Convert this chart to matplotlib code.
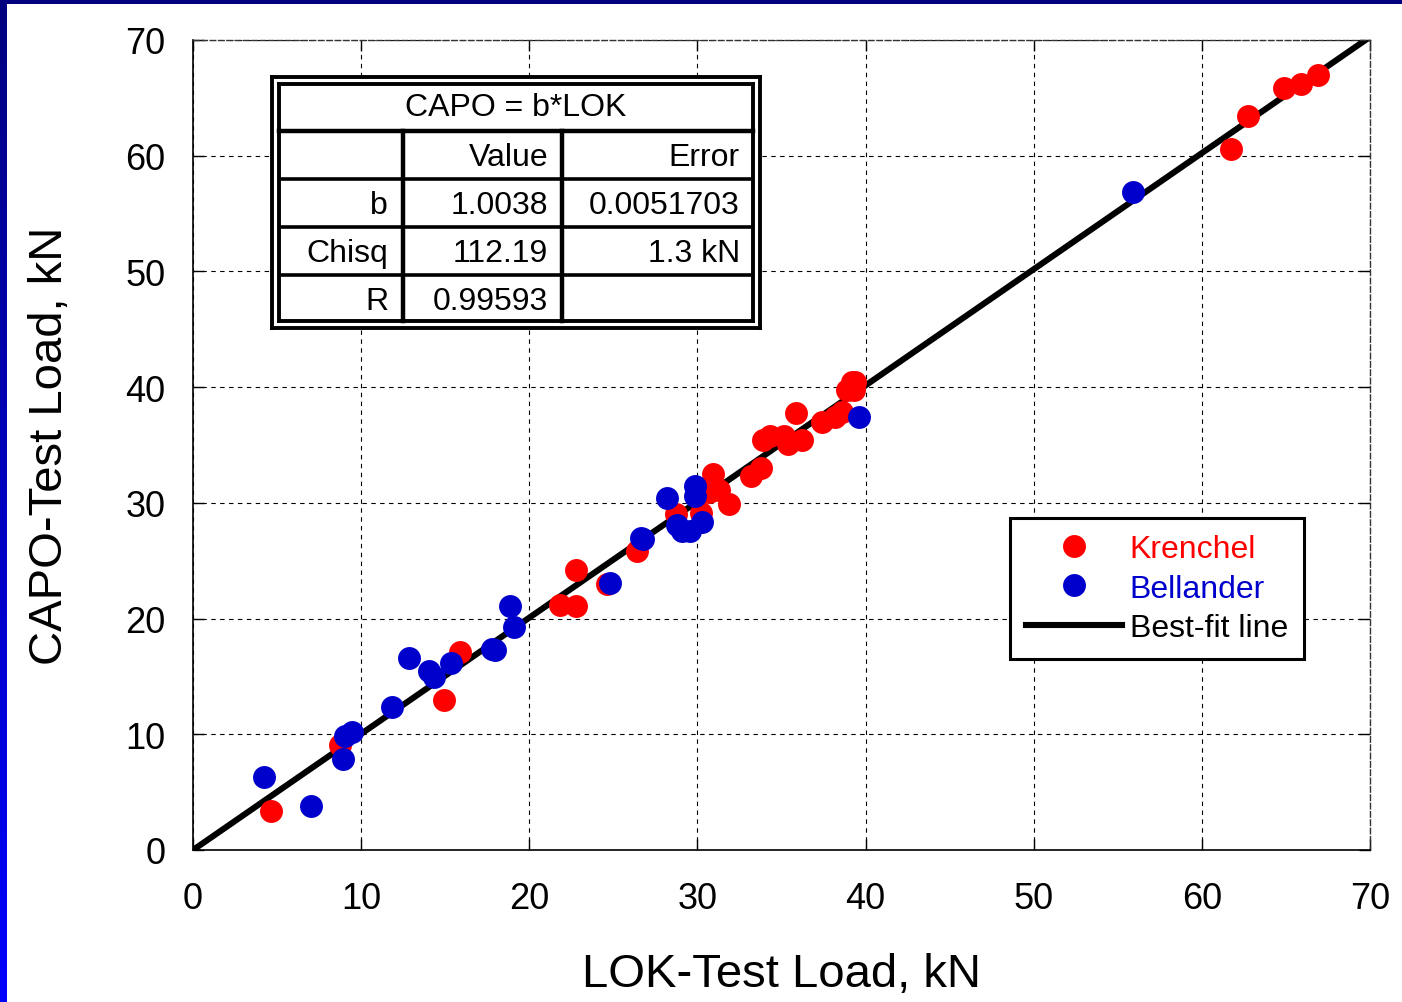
import numpy as np
import matplotlib
matplotlib.use('Agg')
import matplotlib.pyplot as plt
from matplotlib.lines import Line2D

plt.rcParams['font.family'] = ['Liberation Sans', 'DejaVu Sans']

# Data (LOK load vs CAPO load, kN)
krenchel_lok = [4.64, 8.74, 14.95, 15.85, 21.8, 22.75, 22.75, 24.6, 26.42, 28.7,
                30.2, 30.7, 30.9, 31.3, 31.9, 33.2, 33.77, 33.88, 34.3, 35.17,
                35.4, 36.2, 35.86, 37.39, 38.18, 38.58, 38.88, 39.31, 39.17, 39.37,
                61.73, 62.75, 64.89, 65.9, 66.9]
krenchel_capo = [3.37, 9.05, 13.0, 17.1, 21.2, 21.1, 24.2, 22.95, 25.82, 29.0,
                 29.1, 30.9, 32.5, 31.1, 29.9, 32.3, 32.98, 35.43, 35.8, 35.8,
                 35.1, 35.45, 37.73, 36.95, 37.38, 37.87, 39.75, 39.75, 40.47, 40.47,
                 60.58, 63.43, 65.85, 66.2, 66.98]

bellander_lok = [4.22, 7.04, 8.92, 9.04, 9.46, 11.86, 12.85, 14.06, 14.36, 15.33,
                 17.78, 17.98, 18.87, 19.07, 24.8, 26.64, 26.78, 28.17, 29.84, 29.84,
                 28.76, 29.1, 29.58, 30.27, 39.6, 55.89]
bellander_capo = [6.28, 3.8, 7.86, 9.88, 10.24, 12.33, 16.59, 15.47, 14.98, 16.19,
                  17.34, 17.28, 21.09, 19.3, 23.04, 26.96, 26.88, 30.38, 31.49, 30.55,
                  28.09, 27.53, 27.53, 28.37, 37.38, 56.89]

fit_b = 1.0038
fit_x = [0, 70]

ticks = [0, 10, 20, 30, 40, 50, 60, 70]

# fit-results table
table_title = 'CAPO = b*LOK'
table_rows = [['', 'Value', 'Error'],
              ['b', '1.0038', '0.0051703'],
              ['Chisq', '112.19', '1.3 kN'],
              ['R', '0.99593', '']]

W, H = 1402, 1003
fig = plt.figure(figsize=(W / 100, H / 100), dpi=100)
fig.patch.set_facecolor('white')


def fx(x):
    return x / W


def fy(y):
    return 1 - y / H


ax = fig.add_axes([fx(193), fy(851), fx(1370) - fx(193), fy(41) - fy(851)])

red = '#ff0000'
blue = '#0000cc'
fit_lw = 4.4
ms = 16.5

fit_y = [fit_b * v for v in fit_x]
ax.plot(fit_x, fit_y, color='black', lw=fit_lw, solid_capstyle='butt', zorder=2)
ax.plot(krenchel_lok, krenchel_capo, 'o', color=red, ms=ms, mew=0, zorder=3)
ax.plot(bellander_lok, bellander_capo, 'o', color=blue, ms=ms, mew=0, zorder=4)

ax.set_xlim(0, 70)
ax.set_ylim(0, 70)
ax.set_xticks(ticks)
ax.set_yticks(ticks)
ax.grid(True, color='black', lw=0.8, linestyle=(0, (4, 4)))
ax.set_axisbelow(True)
ax.tick_params(direction='in', length=8, width=1, top=True, right=True,
               labelsize=26)
ax.tick_params(axis='x', pad=22)
ax.tick_params(axis='y', pad=20)
for s in ['left', 'bottom']:
    ax.spines[s].set_linewidth(1.2)
for s in ['top', 'right']:
    ax.spines[s].set_linewidth(1.0)
    ax.spines[s].set_linestyle((0, (4, 2)))
    ax.spines[s].set_color('#333333')

ax.set_xlabel('LOK-Test Load, kN', fontsize=34, labelpad=26)
ax.set_ylabel('CAPO-Test Load, kN', fontsize=34, labelpad=38)

# legend
handles = [Line2D([], [], ls='none', marker='o', color=red, ms=ms, mew=0),
           Line2D([], [], ls='none', marker='o', color=blue, ms=ms, mew=0),
           Line2D([], [], color='black', lw=fit_lw)]
leg = ax.legend(handles, ['Krenchel', 'Bellander', 'Best-fit line'],
                loc='upper left', bbox_to_anchor=(fx(1010), fy(519)),
                bbox_transform=fig.transFigure, borderaxespad=0,
                fontsize=23, handlelength=3.0, handletextpad=0.25,
                borderpad=0.5, labelspacing=0.3, fancybox=False,
                framealpha=1, edgecolor='black')
leg.get_frame().set_linewidth(2.2)
for txt, c in zip(leg.get_texts(), [red, blue, 'black']):
    txt.set_color(c)


# table drawn in figure pixels
def hline(y, x0, x1, lw):
    fig.add_artist(Line2D([fx(x0), fx(x1)], [fy(y), fy(y)], color='black',
                          lw=lw, transform=fig.transFigure, zorder=10))


def vline(x, y0, y1, lw):
    fig.add_artist(Line2D([fx(x), fx(x)], [fy(y0), fy(y1)], color='black',
                          lw=lw, transform=fig.transFigure, zorder=10))


fig.add_artist(plt.Rectangle((fx(270), fy(331)), fx(762) - fx(270), fy(76) - fy(331),
                             transform=fig.transFigure, facecolor='white',
                             edgecolor='none', zorder=9))
for (x0, y0, x1, y1) in [(272, 78, 760, 329), (279, 85, 753, 322)]:
    hline(y0, x0, x1, 2.8)
    hline(y1, x0, x1, 2.8)
    vline(x0, y0, y1, 2.8)
    vline(x1, y0, y1, 2.8)
hline(132, 279, 753, 3.2)
for y in [180, 228, 276]:
    hline(y, 279, 753, 2.6)
for x in [403, 562]:
    vline(x, 132, 322, 3.2)

fig.text(fx(516), fy(108), table_title, fontsize=23, ha='center', va='center', zorder=11)
row_y = [158, 206, 254, 302]
col_right = [388, 548, 740]
for yy, row in zip(row_y, table_rows):
    for xx, cell in zip(col_right, row):
        fig.text(fx(xx), fy(yy), cell, fontsize=23, ha='right', va='center', zorder=11)

# slide frame: navy top band, gradient left band
fig.add_artist(plt.Rectangle((0, fy(5)), 1, fy(0) - fy(5), transform=fig.transFigure,
                             facecolor='#000080', edgecolor='none', zorder=20))
band = fig.add_axes([0, 0, fx(7), 1], zorder=20)
grad = np.linspace(0, 1, 256)[:, None]
cmap = matplotlib.colors.LinearSegmentedColormap.from_list('frame', ['#000080', '#0000ff'])
band.imshow(grad, aspect='auto', cmap=cmap, extent=[0, 1, 0, 1])
band.axis('off')

fig.savefig('out.png', dpi=100)
